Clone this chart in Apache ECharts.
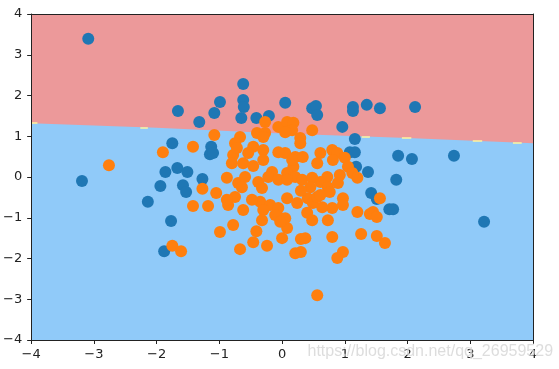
<!DOCTYPE html>
<html>
<head>
<meta charset="utf-8">
<script src="https://cdn.jsdelivr.net/npm/echarts@6/dist/echarts.min.js"></script>
<style>
html,body{margin:0;padding:0;background:#fff;}
#chart{width:559px;height:369px;}
</style>
</head>
<body>
<div id="chart"></div>
<script>
// Axis ticks
var xTicks = [-4, -3, -2, -1, 0, 1, 2, 3, 4];
var yTicks = [-4, -3, -2, -1, 0, 1, 2, 3, 4];

// Decision boundary (class regions)
var boundaryX = [-4, -2, 0, 2, 4];
var boundaryY = [1.32, 1.21, 1.07, 0.96, 0.83];

// Small yellow contour slivers on the boundary
var sliverX1 = [-4.0, -2.26, 1.27, 1.91, 3.04, 3.68];
var sliverX2 = [-3.90, -2.14, 1.40, 2.06, 3.19, 3.82];
var sliverY  = [1.33, 1.22, 0.99, 0.96, 0.88, 0.85];

// Class 0 (blue)
var blueX = [-3.09,-3.19,-2.14,-1.77,-1.88,-1.66,-1.32,-1.08,-0.99,-0.62,-0.62,-0.61,-0.65,-0.41,-0.21,0.05,0.48,0.54,0.56,1.13,1.13,1.35,1.56,2.12,0.96,1.16,1.08,1.16,1.18,1.37,1.85,2.07,2.74,3.22,1.82,1.42,1.51,1.71,1.77,-1.75,-1.13,-1.15,-1.10,-1.86,-1.67,-1.51,-1.27,-1.94,-1.58,-1.53];
var blueY = [3.39,-0.10,-0.61,-1.08,-1.82,1.62,1.35,1.57,1.84,2.28,1.89,1.72,1.45,1.45,1.50,1.82,1.69,1.74,1.52,1.72,1.62,1.77,1.69,1.72,1.23,0.93,0.61,0.61,0.25,0.12,0.52,0.44,0.52,-1.10,-0.07,-0.39,-0.54,-0.79,-0.79,0.83,0.74,0.56,0.59,0.12,0.22,0.12,-0.05,-0.22,-0.20,-0.37];

// Class 1 (orange)
var orangeX = [-1.90,-2.76,-1.42,-1.08,-0.27,-0.06,0.08,0.18,0.16,0.48,-0.40,-0.27,-0.67,-0.75,-0.78,-0.72,-0.46,-0.30,-0.30,-0.30,-0.54,-0.80,-0.62,-0.46,0.29,0.29,0.05,0.05,0.21,0.33,0.61,0.80,0.88,1.00,1.05,0.18,0.56,0.81,0.08,0.21,0.32,-0.06,0.16,-0.16,-0.22,-0.06,0.08,-0.88,-0.70,-0.59,-0.38,-0.32,-0.75,-0.86,-0.62,-0.35,-0.19,-0.06,-0.30,0.08,0.24,0.41,0.49,0.40,0.92,1.12,1.20,0.72,0.61,0.73,0.89,0.76,0.56,0.97,1.56,0.80,0.64,1.20,1.45,0.48,0.45,0.61,0.30,0.48,0.73,0.97,1.40,1.51,1.26,1.51,1.64,0.80,0.97,0.88,0.30,0.37,0.21,0.30,0.08,0.00,0.56,-0.03,0.05,-0.78,-0.32,-0.11,-0.03,-0.41,-0.46,-0.24,-0.67,-1.75,-1.61,-1.42,-1.18,-1.27,-1.05,-0.99,-0.48,-0.88,-0.64];
var orangeY = [0.61,0.29,0.74,1.03,1.35,1.23,1.35,1.33,1.15,1.15,1.08,1.08,0.98,0.83,0.54,0.71,0.74,0.98,0.66,0.42,0.59,0.34,0.34,0.27,0.96,0.83,1.10,0.59,0.49,0.49,0.59,0.66,0.59,0.47,0.25,0.25,0.34,0.42,0.10,0.00,-0.07,0.61,0.42,0.12,0.00,-0.07,-0.07,-0.02,-0.15,0.00,-0.12,-0.27,-0.49,-0.69,-0.81,-0.61,-0.69,-0.76,-0.81,-0.52,-0.64,-0.52,-0.64,-0.88,0.05,0.10,-0.02,0.00,-0.12,-0.25,-0.15,-0.37,-0.49,-0.52,-0.52,-0.76,-0.74,-0.86,-0.86,-0.02,-0.25,-0.44,-0.34,-1.06,-1.06,-0.69,-0.91,-0.98,-1.40,-1.45,-1.62,-1.47,-1.84,-1.99,-1.52,-1.50,-1.87,-1.84,-1.25,-1.50,-2.90,-1.01,-1.01,-1.18,-1.06,-0.93,-1.10,-1.33,-1.60,-1.69,-1.77,-1.69,-1.82,-0.71,-0.71,-0.29,-0.39,-1.35,-0.56,-0.56,-0.25];

var watermark = 'https://blog.csdn.net/qq_26959529';

function zip(a, b) { return a.map(function (v, i) { return [v, b[i]]; }); }
function fmt(v) { return String(v).replace('-', '\u2212'); }

var FONT = 'DejaVu Sans';
var chart = echarts.init(document.getElementById('chart'), null, {renderer: 'canvas'});

var baseX = {min: xTicks[0], max: xTicks[xTicks.length - 1], interval: 1, type: 'value'};
var baseY = {min: yTicks[0], max: yTicks[yTicks.length - 1], interval: 1, type: 'value'};

chart.setOption({
  animation: false,
  backgroundColor: '#ffffff',
  grid: {left: 31, top: 14, right: 26, bottom: 29, show: true, backgroundColor: '#EC999A', borderWidth: 0},
  xAxis: [
    Object.assign({}, baseX, {
      position: 'bottom', z: 10,
      axisLine: {show: true, onZero: false, lineStyle: {color: '#222', width: 1}},
      axisTick: {show: true, inside: false, length: 4, lineStyle: {color: '#222'}},
      axisLabel: {show: true, margin: 8, color: '#222', fontFamily: FONT, fontSize: 13, formatter: fmt},
      splitLine: {show: false}
    }),
    Object.assign({}, baseX, {
      position: 'top', z: 10,
      axisLine: {show: true, onZero: false, lineStyle: {color: '#222', width: 1}},
      axisTick: {show: false}, axisLabel: {show: false}, splitLine: {show: false}
    })
  ],
  yAxis: [
    Object.assign({}, baseY, {
      position: 'left', z: 10,
      axisLine: {show: true, onZero: false, lineStyle: {color: '#222', width: 1}},
      axisTick: {show: true, inside: false, length: 4, lineStyle: {color: '#222'}},
      axisLabel: {show: true, margin: 9, color: '#222', fontFamily: FONT, fontSize: 13, formatter: fmt},
      splitLine: {show: false}
    }),
    Object.assign({}, baseY, {
      position: 'right', z: 10,
      axisLine: {show: true, onZero: false, lineStyle: {color: '#222', width: 1}},
      axisTick: {show: false}, axisLabel: {show: false}, splitLine: {show: false}
    })
  ],
  series: [
    {
      type: 'line', xAxisIndex: 0, yAxisIndex: 0, z: 1,
      data: zip(boundaryX, boundaryY),
      symbol: 'none', silent: true,
      lineStyle: {width: 0, color: '#90CAF9'},
      areaStyle: {color: '#90CAF9', opacity: 1, origin: 'start'}
    },
    {
      type: 'lines', coordinateSystem: 'cartesian2d', xAxisIndex: 0, yAxisIndex: 0, z: 1.5,
      silent: true,
      lineStyle: {color: '#FFF59D', width: 1.5, opacity: 1},
      data: sliverY.map(function (y, i) { return {coords: [[sliverX1[i], y], [sliverX2[i], y]]}; })
    },
    {
      type: 'scatter', xAxisIndex: 0, yAxisIndex: 0, z: 3,
      symbolSize: 12,
      itemStyle: {color: '#1f77b4', opacity: 1},
      data: zip(blueX, blueY)
    },
    {
      type: 'scatter', xAxisIndex: 0, yAxisIndex: 0, z: 4,
      symbolSize: 12,
      itemStyle: {color: '#ff7f0e', opacity: 1},
      data: zip(orangeX, orangeY)
    }
  ],
  graphic: [{
    type: 'text', left: 307, top: 343, z: 100, silent: true,
    style: {text: watermark, font: '16px "Liberation Sans", Arial, sans-serif', fill: 'rgba(210,210,210,0.75)', stroke: 'rgba(255,255,255,0.5)', lineWidth: 1}
  }]
});
</script>
</body>
</html>
